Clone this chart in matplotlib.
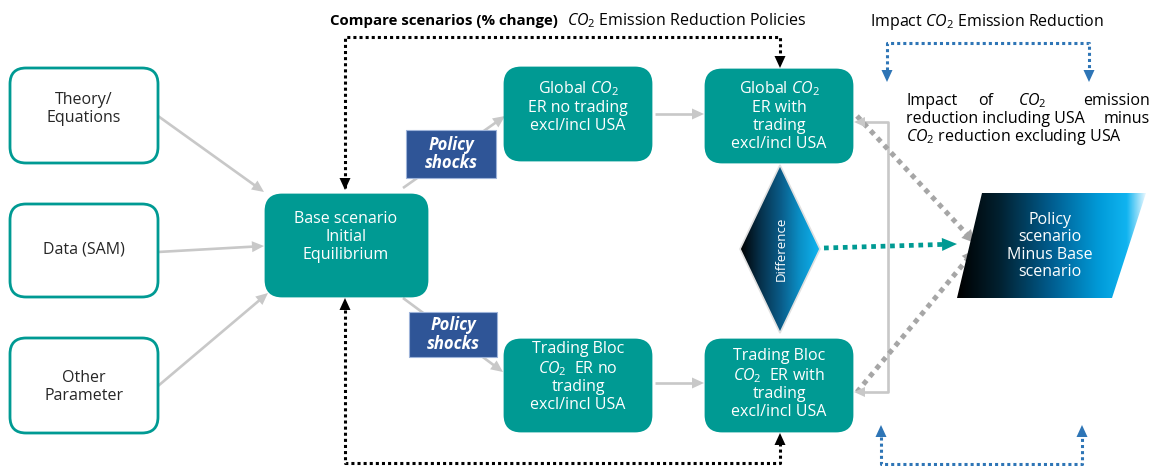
import matplotlib
matplotlib.use("Agg")
import matplotlib.pyplot as plt
import numpy as np
from matplotlib.patches import FancyBboxPatch, Polygon, Rectangle
from matplotlib.colors import LinearSegmentedColormap

plt.rcParams['font.family'] = ['Open Sans', 'DejaVu Sans']
plt.rcParams['mathtext.fontset'] = 'custom'
plt.rcParams['mathtext.rm'] = 'Open Sans'
plt.rcParams['mathtext.it'] = 'Open Sans:italic'

# --- diagram content ---
input_labels = ["Theory/\nEquations", "Data (SAM)", "Other\nParameter"]
base_label = "Base scenario\nInitial\nEquilibrium"
global_labels = ["Global $CO_2$\nER no trading\nexcl/incl USA",
                 "Global $CO_2$\nER with\ntrading\nexcl/incl USA"]
bloc_labels = ["Trading Bloc\n$CO_2$  ER no\ntrading\nexcl/incl USA",
               "Trading Bloc\n$CO_2$  ER with\ntrading\nexcl/incl USA"]
shock_label = "Policy\nshocks"
diff_label = "Difference"
result_label = "Policy\nscenario\nMinus Base\nscenario"
top_title_bold = "Compare scenarios (% change)"
top_title_rest = "$CO_2$ Emission Reduction Policies"
impact_title = "Impact $CO_2$ Emission Reduction"
impact_line1 = ["Impact", "of", "$CO_2$", "emission"]
impact_line2 = ["reduction including USA", "minus"]
impact_line3 = "$CO_2$ reduction excluding USA"

TEAL = "#009a93"
GRAY = "#c8c8c8"
DGRAY = "#a6a6a6"
NAVY = "#2f5597"
BLUE = "#2e75b6"
FS = 11.5

fig = plt.figure(figsize=(11.58, 4.66), dpi=100)
ax = fig.add_axes([0, 0, 1, 1])
ax.set_xlim(0, 1158)
ax.set_ylim(466, 0)
ax.axis("off")


def box(x0, y0, x1, y1, fill=True, r=16):
    p = FancyBboxPatch((x0, y0), x1 - x0, y1 - y0,
                       boxstyle=f"round,pad=0,rounding_size={r}",
                       fc=TEAL if fill else "white", ec=TEAL, lw=2.0, zorder=3)
    ax.add_patch(p)


def label(x, y, text, color="white", fs=FS, ls=1.16, **kw):
    ax.text(x, y, text, ha="center", va="center", color=color, fontsize=fs,
            linespacing=ls, zorder=6, **kw)


def head(tip, frm, color, length=12, width=11, z=5):
    tip = np.array(tip, float)
    d = tip - np.array(frm, float)
    d /= np.hypot(*d)
    n = np.array([-d[1], d[0]])
    b = tip - d * length
    ax.add_patch(Polygon([tip, b + n * width / 2, b - n * width / 2],
                         closed=True, fc=color, ec="none", zorder=z))


def arrow(p0, p1, color=GRAY, lw=1.9, ls="-", hl=12, hw=11, z=2):
    p0 = np.array(p0, float)
    p1 = np.array(p1, float)
    d = (p1 - p0) / np.hypot(*(p1 - p0))
    end = p1 - d * hl * 0.8
    ax.plot([p0[0], end[0]], [p0[1], end[1]], color=color, lw=lw, ls=ls,
            solid_capstyle="butt", dash_capstyle="butt", zorder=z)
    head(p1, p0, color, hl, hw, z=z + 0.5)


# input boxes
box(10, 68, 158, 163, fill=False)
label(84, 109, input_labels[0], color="#262626")
box(10, 204, 158, 297, fill=False)
label(84, 250, input_labels[1], color="#262626")
box(10, 338, 158, 433, fill=False)
label(84, 387, input_labels[2], color="#262626")

# base scenario
box(266, 195, 427, 296)
label(346, 237, base_label)

# scenario boxes
box(505, 68, 651, 160)
label(578, 107, global_labels[0])
box(706, 70, 852, 162)
label(779, 116, global_labels[1])
box(505, 340, 651, 431)
label(578, 377, bloc_labels[0])
box(706, 340, 852, 431)
label(779, 384, bloc_labels[1])

# input arrows
arrow((158, 116), (264, 192))
arrow((158, 252), (264, 246))
arrow((158, 386), (268, 293))
# base -> scenarios
arrow((403, 188), (505, 116))
arrow((403, 298), (503, 372))
arrow((655, 114), (704, 114))
arrow((655, 383), (704, 383))

# policy shocks boxes
for (x0, y0, x1, y1) in [(406, 130, 496, 178), (409, 312, 497, 357)]:
    ax.add_patch(Rectangle((x0, y0), x1 - x0, y1 - y0, fc=NAVY, ec="#9db3d9",
                           lw=0.8, zorder=6))
    ax.text((x0 + x1) / 2, (y0 + y1) / 2, shock_label, ha="center", va="center",
            color="white", fontsize=12, fontweight="bold", style="italic",
            linespacing=1.05, zorder=7)

# bracket between the two "with trading" boxes
ax.plot([862, 888, 888, 862], [122, 122, 392, 392], color=GRAY, lw=1.9, zorder=2)
head((854, 122), (888, 122), GRAY, 11, 10)
head((854, 392), (888, 392), GRAY, 11, 10)

# gradient colormaps
diff_cmap = LinearSegmentedColormap.from_list(
    "d", ["#000000", "#06304a", "#0a5a86", "#0a8fc6", "#10b6f2"])
res_cmap = LinearSegmentedColormap.from_list(
    "r", [(0, "#000000"), (0.22, "#02202f"), (0.5, "#005d8f"),
          (0.75, "#009ad8"), (0.9, "#10b4f0"), (1.0, "#e6f7ff")])
grad = np.linspace(0, 1, 256)[None, :]

# difference diamond
dia = Polygon([(780, 165), (820, 249), (780, 333), (740, 249)], closed=True,
              fc="none", ec="#e0e0e0", lw=1.2, zorder=5)
ax.add_patch(dia)
im = ax.imshow(grad, cmap=diff_cmap, extent=(740, 820, 333, 165),
               aspect="auto", zorder=4)
im.set_clip_path(dia)
label(781, 249, diff_label, fs=9.5, rotation=90)

# result parallelogram
par = Polygon([(982, 193), (1146, 193), (1112, 298), (957, 298)], closed=True,
              fc="none", ec="none", zorder=5)
ax.add_patch(par)
im2 = ax.imshow(grad, cmap=res_cmap, extent=(957, 1146, 298, 193),
                aspect="auto", zorder=4)
im2.set_clip_path(par)
label(1050, 246, result_label, ls=1.1)

# dotted gray arrows into result
arrow((857, 116), (975, 243), color=DGRAY, lw=3.6, ls=(0, (1, 1)), hl=13, hw=13)
arrow((857, 392), (975, 250), color=DGRAY, lw=3.6, ls=(0, (1, 1)), hl=13, hw=13)
# teal dotted arrow from diamond
arrow((824, 248), (957, 244), color=TEAL, lw=3.4, ls=(0, (1, 1)), hl=15, hw=13, z=6)

# black dotted comparison loops
ax.plot([345, 345, 780, 780], [188, 37, 37, 56], color="black", lw=2.2,
        ls=(0, (1, 1)), dash_capstyle="butt", zorder=2)
head((780, 68), (780, 37), "black", 12, 11)
head((345, 190), (345, 37), "black", 12, 11)
ax.plot([345, 345, 780, 780], [310, 463, 463, 444], color="black", lw=2.2,
        ls=(0, (1, 1)), dash_capstyle="butt", zorder=2)
head((345, 298), (345, 463), "black", 12, 11)
head((780, 433), (780, 463), "black", 12, 11)

# blue dotted impact brackets
ax.plot([887, 887, 1089, 1089], [70, 43, 43, 70], color=BLUE, lw=2.2,
        ls=(0, (1, 1)), dash_capstyle="butt", zorder=2)
head((887, 82), (887, 43), BLUE, 12, 11)
head((1089, 82), (1089, 43), BLUE, 12, 11)
ax.plot([881, 881, 1082, 1082], [437, 464, 464, 437], color=BLUE, lw=2.2,
        ls=(0, (1, 1)), dash_capstyle="butt", zorder=2)
head((881, 425), (881, 464), BLUE, 12, 11)
head((1082, 425), (1082, 464), BLUE, 12, 11)

# titles
ax.text(330, 21, top_title_bold, ha="left", va="center", fontsize=10.8,
        fontweight="bold", color="black")
ax.text(567, 21, top_title_rest, ha="left", va="center", fontsize=11.5,
        color="black")
ax.text(870, 22, impact_title, ha="left", va="center", fontsize=11.5,
        color="black")

# justified paragraph
for word, x, ha in zip(impact_line1, [906, 986, 1032, 1150],
                       ["left", "center", "center", "right"]):
    ax.text(x, 101, word, ha=ha, va="center", fontsize=11.5, color="black")
for word, x, ha in zip(impact_line2, [906, 1150], ["left", "right"]):
    ax.text(x, 119, word, ha=ha, va="center", fontsize=11.5, color="black")
ax.text(906, 137, impact_line3, ha="left", va="center", fontsize=11.5, color="black")

fig.savefig("out.png", dpi=100, facecolor="white")
